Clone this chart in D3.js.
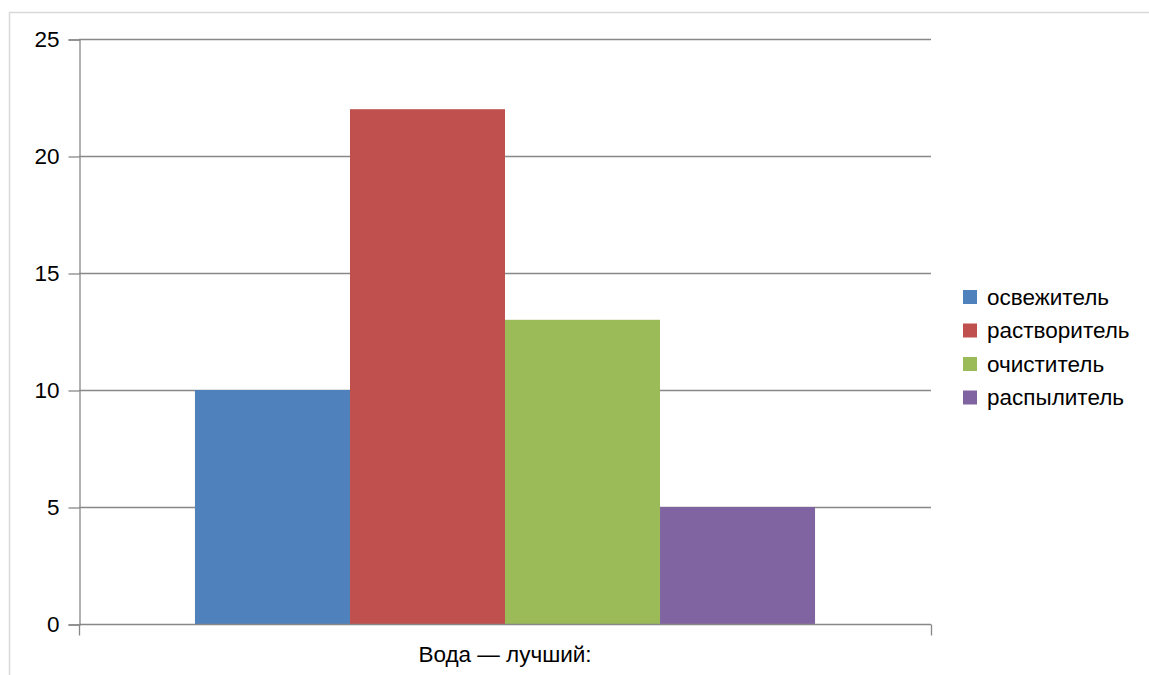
<!DOCTYPE html>
<html>
<head>
<meta charset="utf-8">
<script src="https://cdn.jsdelivr.net/npm/d3@7"></script>
<style>
  html, body { margin: 0; padding: 0; background: #fff; }
  svg { display: block; font-family: "Liberation Sans", "DejaVu Sans", sans-serif; }
</style>
</head>
<body>
<svg id="chart" width="1149" height="675"></svg>
<script>
// Chart data
const categories = ["Вода — лучший:"];
const seriesNames = ["освежитель", "растворитель", "очиститель", "распылитель"];
const seriesValues = [10, 22, 13, 5];
const seriesColors = ["#4f81bd", "#c0504d", "#9bbb59", "#8064a2"];
const yTicks = [0, 5, 10, 15, 20, 25];

const svg = d3.select("#chart");
const fontSize = 22.5;

// outer chart frame
svg.append("rect")
  .attr("x", 9.5).attr("y", 12.5)
  .attr("width", 1200).attr("height", 700)
  .attr("fill", "#fff").attr("stroke", "#d9d9d9").attr("stroke-width", 1.5);

const plot = { left: 79, right: 931, top: 39, bottom: 624 };

const y = d3.scaleLinear().domain([0, 25]).range([plot.bottom, plot.top]);

const x0 = d3.scaleBand().domain(categories)
  .range([plot.left, plot.right])
  .paddingInner(0).paddingOuter(0.187);

const x1 = d3.scaleBand().domain(seriesNames)
  .range([0, x0.bandwidth()]).padding(0);

// horizontal gridlines
svg.append("g")
  .selectAll("line")
  .data(yTicks.filter(d => d > 0))
  .join("line")
  .attr("x1", plot.left).attr("x2", plot.right)
  .attr("y1", d => Math.round(y(d)) + 0.5).attr("y2", d => Math.round(y(d)) + 0.5)
  .attr("stroke", "#888").attr("stroke-width", 1.3);

// bars
const data = seriesNames.map((name, i) => ({ name, value: seriesValues[i], color: seriesColors[i] }));
svg.append("g")
  .attr("transform", `translate(${x0(categories[0])},0)`)
  .selectAll("rect")
  .data(data)
  .join("rect")
  .attr("x", d => x1(d.name))
  .attr("width", x1.bandwidth())
  .attr("y", d => y(d.value))
  .attr("height", d => y(0) - y(d.value))
  .attr("fill", d => d.color);

// y axis
const yAxis = d3.axisLeft(y).tickValues(yTicks).tickSize(11).tickPadding(9);
const gy = svg.append("g")
  .attr("transform", `translate(${plot.left + 0.5},0.5)`)
  .call(yAxis);
gy.select(".domain").attr("stroke", "#888").attr("stroke-width", 1.3);
gy.selectAll(".tick line").attr("stroke", "#888").attr("stroke-width", 1.3);
gy.selectAll(".tick text")
  .attr("font-size", fontSize).attr("fill", "#000")
  .attr("font-family", "'Liberation Sans', sans-serif");

// x axis
const xAxis = d3.axisBottom(x0).tickSize(0).tickPadding(22);
const gx = svg.append("g")
  .attr("transform", `translate(0,${plot.bottom + 0.5})`)
  .call(xAxis);
gx.select(".domain").remove();
gx.append("line")
  .attr("x1", plot.left).attr("x2", plot.right)
  .attr("stroke", "#888").attr("stroke-width", 1.3);
gx.selectAll(".edge")
  .data([plot.left, plot.right])
  .join("line")
  .attr("class", "edge")
  .attr("x1", d => d + 0.5).attr("x2", d => d + 0.5)
  .attr("y1", 0).attr("y2", 11)
  .attr("stroke", "#888").attr("stroke-width", 1.3);
gx.selectAll(".tick text")
  .attr("font-size", fontSize).attr("fill", "#000")
  .attr("font-family", "'Liberation Sans', sans-serif");

// legend
const legend = svg.append("g").attr("transform", "translate(963,297)");
const rows = legend.selectAll("g")
  .data(data)
  .join("g")
  .attr("transform", (d, i) => `translate(0,${i * 33.5})`);
rows.append("rect")
  .attr("x", 0).attr("y", -7).attr("width", 14).attr("height", 14)
  .attr("fill", d => d.color);
rows.append("text")
  .attr("x", 24).attr("y", 0).attr("dy", "0.35em")
  .attr("font-size", fontSize).attr("fill", "#000")
  .text(d => d.name);
</script>
</body>
</html>
